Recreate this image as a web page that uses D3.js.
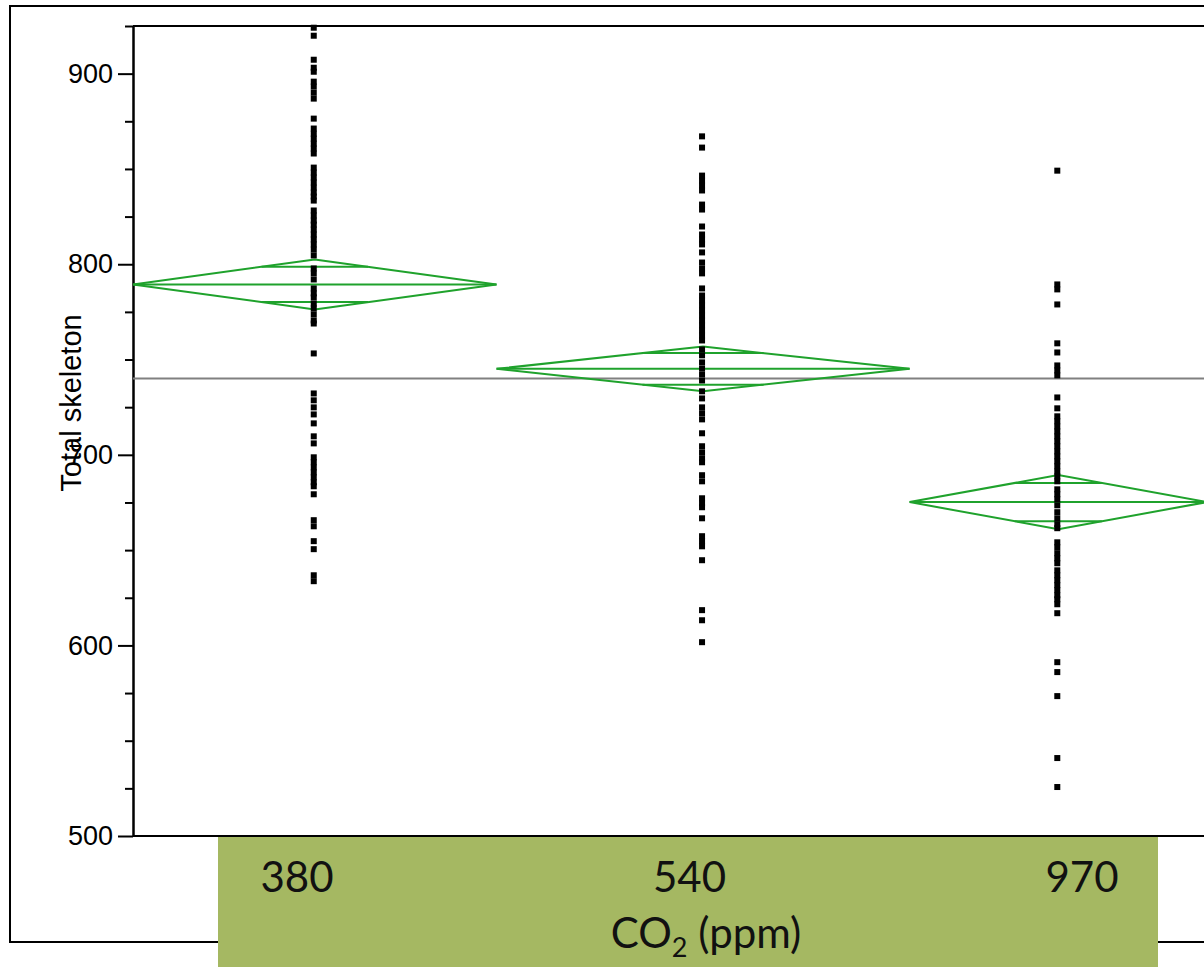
<!DOCTYPE html>
<html lang="en">
<head>
<meta charset="UTF-8">
<title>Total skeleton by CO2</title>
<script src="https://cdn.jsdelivr.net/npm/d3@7"></script>
<style>
    body { margin: 0; background: #fff; }
    .tick text { font-family: "Liberation Sans", Arial, sans-serif; font-size: 27px; fill: #000; }
    .axis path, .axis line { stroke: #000; stroke-width: 2px; }
    .diamond { fill: none; stroke: #1fa22c; stroke-width: 2px; }
    .cat_label { font-family: Lato, "Open Sans", sans-serif; font-size: 42px; fill: #111; }
</style>
</head>
<body>
<div id="chart"></div>
<script>
    // groups and their sample sizes (diamond widths are proportional to n)
    var groups = ["380", "540", "970"];
    var groupN = [44, 50, 36];

    // group means and 95% CI half widths, plus the grand mean
    var groupMeans = [789.4, 745.1, 675.2];
    var ciHalf = [13.1, 11.7, 14.2];
    var grandMean = 740;

    // y ticks
    var yMajorTicks = [500, 600, 700, 800, 900];
    var yMinorTicks = [525, 550, 575, 625, 650, 675, 725, 750, 775, 825, 850, 875, 925];

    var skel380 = [924.1, 919.9, 907.3, 903.1, 901.0, 895.8, 893.2, 890.0, 886.9, 876.4,
        871.2, 868.5, 865.9, 863.3, 860.7, 858.1, 850.7, 848.1, 845.5, 842.9, 840.2,
        837.6, 835.5, 833.4, 828.2, 825.6, 822.9, 820.8, 818.2, 815.6, 813.0, 810.4,
        807.7, 804.6, 797.8, 795.2, 792.0, 787.3, 784.7, 782.6, 779.4, 776.8, 773.7,
        770.5, 768.9, 753.2, 732.2, 728.6, 724.9, 721.2, 716.5, 709.7, 706.0, 698.7,
        696.1, 693.4, 690.8, 688.2, 685.6, 683.5, 679.3, 665.7, 662.5, 654.7, 650.5,
        636.8, 633.7];
    var skel540 = [867.1, 861.2, 846.5, 843.9, 841.3, 838.7, 831.3, 828.7, 819.8, 815.6,
        813.0, 810.4, 806.2, 800.9, 797.8, 795.2, 787.3, 783.6, 781.0, 778.4, 775.8,
        773.1, 770.5, 767.9, 765.3, 762.6, 760.0, 755.3, 752.2, 748.5, 745.3, 742.2,
        739.0, 733.3, 729.6, 724.9, 721.8, 718.6, 711.3, 704.5, 701.3, 698.2, 696.1,
        689.3, 686.1, 677.2, 674.6, 672.5, 666.7, 657.3, 654.7, 652.0, 644.7, 618.5,
        613.2, 601.7];
    var skel970 = [849.1, 789.4, 786.8, 778.9, 758.5, 753.7, 746.9, 744.3, 741.7, 730.1,
        724.4, 720.2, 717.6, 714.9, 712.3, 709.7, 707.1, 704.5, 701.8, 699.2, 696.6,
        694.0, 691.3, 688.7, 686.1, 681.9, 679.3, 676.7, 673.5, 669.9, 666.7, 663.6,
        661.5, 654.1, 651.5, 648.4, 645.7, 643.1, 639.4, 636.8, 634.2, 631.6, 629.0,
        626.3, 624.2, 621.6, 616.9, 591.2, 586.0, 573.4, 540.9, 525.7];
    var observations = [skel380, skel540, skel970];

    var W = 1204, H = 967;
    var plot = {left: 133, top: 26, right: 1207, bottom: 836};

    var svg = d3.select("#chart").append("svg")
        .attr("width", W)
        .attr("height", H);

    // outer frame
    svg.append("rect")
        .attr("x", 10).attr("y", 6)
        .attr("width", W + 20).attr("height", 936)
        .attr("fill", "none").attr("stroke", "#000").attr("stroke-width", 2);

    // scales
    var total = d3.sum(groupN);
    var cum = [0];
    groupN.forEach(function(n, i) { cum.push(cum[i] + n); });

    var x = d3.scaleLinear().domain([0, total]).range([plot.left, plot.right]);
    var y = d3.scaleLinear().domain([500, 925]).range([plot.bottom, plot.top]);

    // top border of the frame
    svg.append("line")
        .attr("x1", plot.left).attr("x2", W)
        .attr("y1", plot.top).attr("y2", plot.top)
        .attr("stroke", "#000").attr("stroke-width", 2);

    // bottom axis line
    svg.append("line")
        .attr("x1", plot.left).attr("x2", W)
        .attr("y1", plot.bottom).attr("y2", plot.bottom)
        .attr("stroke", "#000").attr("stroke-width", 2);

    // minor ticks
    svg.append("g")
        .attr("class", "axis")
        .attr("transform", "translate(" + plot.left + ",0)")
        .call(d3.axisLeft(y).tickValues(yMinorTicks).tickSize(8).tickSizeOuter(0).tickFormat(""));

    // major ticks + labels
    svg.append("g")
        .attr("class", "axis")
        .attr("transform", "translate(" + plot.left + ",0)")
        .call(d3.axisLeft(y).tickValues(yMajorTicks).tickSize(15).tickSizeOuter(0).tickPadding(5));

    // grand mean line
    svg.append("line")
        .attr("x1", plot.left).attr("x2", W)
        .attr("y1", y(grandMean)).attr("y2", y(grandMean))
        .attr("stroke", "#808080").attr("stroke-width", 2);

    // means diamonds
    var k = Math.SQRT2 / 2;
    groups.forEach(function(g, i) {
        var x0 = x(cum[i]), x1 = x(cum[i + 1]), xc = (x0 + x1) / 2;
        var m = groupMeans[i], h = ciHalf[i];
        var dg = svg.append("g").attr("class", "diamond");

        dg.append("path")
            .attr("d", d3.line()([[x0, y(m)], [xc, y(m + h)], [x1, y(m)], [xc, y(m - h)], [x0, y(m)]]));
        dg.append("line")
            .attr("x1", x0).attr("x2", x1)
            .attr("y1", y(m)).attr("y2", y(m));

        // overlap marks
        var hw = (x1 - x0) / 2 * (1 - k);
        [m + h * k, m - h * k].forEach(function(v) {
            dg.append("line")
                .attr("x1", xc - hw).attr("x2", xc + hw)
                .attr("y1", y(v)).attr("y2", y(v));
        });
    });

    // points
    groups.forEach(function(g, i) {
        var xc = (x(cum[i]) + x(cum[i + 1])) / 2 - 1;
        svg.append("g").selectAll("rect")
            .data(observations[i])
            .enter().append("rect")
            .attr("x", xc - 3)
            .attr("y", function(d) { return y(d) - 3; })
            .attr("width", 6)
            .attr("height", 6)
            .attr("fill", "#000");
    });

    // y axis title
    svg.append("text")
        .attr("transform", "translate(71," + 403 + ") rotate(-90)")
        .attr("dy", "0.35em")
        .style("text-anchor", "middle")
        .style("font-family", "Liberation Sans, Arial, sans-serif")
        .style("font-size", "29px")
        .text("Total skeleton");

    // category label box
    svg.append("rect")
        .attr("x", 218).attr("y", 837)
        .attr("width", 940).attr("height", 130)
        .attr("fill", "#a5b862");

    var xl = d3.scalePoint().domain(groups).range([297, 1082]);
    svg.selectAll(".cat_label")
        .data(groups)
        .enter().append("text")
        .attr("class", "cat_label")
        .attr("x", function(d) { return xl(d); })
        .attr("y", 892)
        .style("text-anchor", "middle")
        .text(function(d) { return d; });

    var xt = svg.append("text")
        .attr("class", "cat_label")
        .attr("x", 706)
        .attr("y", 948)
        .style("text-anchor", "middle");
    xt.append("tspan").text("CO");
    xt.append("tspan").attr("dy", 9).style("font-size", "27px").text("2");
    xt.append("tspan").attr("dy", -9).text(" (ppm)");
</script>
</body>
</html>
